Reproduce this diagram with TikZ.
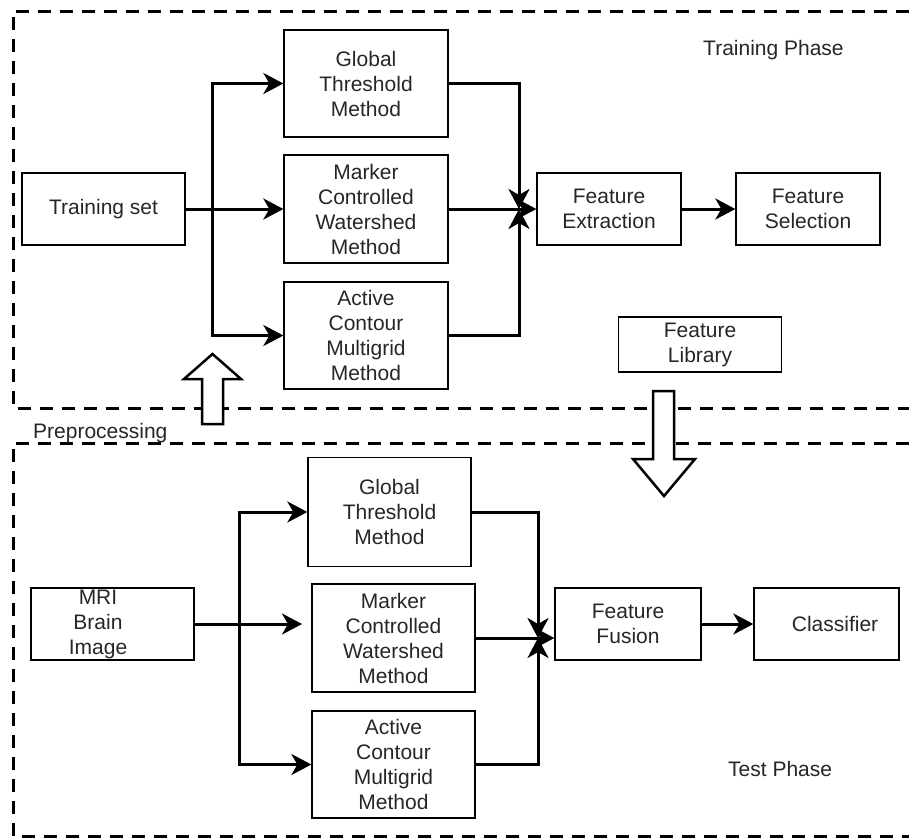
\documentclass[tikz,border=0pt]{standalone}
\usepackage{fontspec}
\setmainfont{Liberation Sans}
\usetikzlibrary{arrows.meta}
\begin{document}
\begin{tikzpicture}[x=1pt,y=-1pt,
  box/.style={draw, line width=1.3pt, inner sep=0pt, align=center,
    font=\fontsize{21}{25}\selectfont, text=black!85},
  lbl/.style={inner sep=0pt, align=center, font=\fontsize{21}{25}\selectfont, text=black!85},
  arr/.style={line width=3pt, -{Stealth[length=20pt,width=21pt,inset=6pt]}},
  frame/.style={line width=3pt, dash pattern=on 13pt off 9pt},
  blk/.style={draw, line width=2.5pt, fill=white, line join=miter}]
\useasboundingbox (0,0) rectangle (909,839);

% dashed phase frames
\draw[frame] (909,11) -- (13,11) -- (13,408) -- (909,408);
\draw[frame] (909,443) -- (13,443) -- (13,836) -- (909,836);

% ---------- training phase ----------
\node[box, minimum width=163pt, minimum height=72pt] (ts) at (103.5,209) {Training set};
\node[box, minimum width=164pt, minimum height=107pt] (gt1) at (366,83.5) {Global\\Threshold\\Method};
\node[box, minimum width=164pt, minimum height=108pt] (mw1) at (366,209) {Marker\\Controlled\\Watershed\\Method};
\node[box, minimum width=164pt, minimum height=107pt] (ac1) at (366,335.5) {Active\\Contour\\Multigrid\\Method};
\node[box, minimum width=144pt, minimum height=72pt] (fe) at (609,209) {Feature\\Extraction};
\node[box, minimum width=144pt, minimum height=72pt] (fs) at (808,209) {Feature\\Selection};
\node[box, minimum width=163pt, minimum height=55pt] (fl) at (700,344.5) {Feature\\Library};

\coordinate (j1) at (212,209);
\coordinate (m1) at (519,209);
\draw[arr] (ts.east) -- (mw1.west);
\draw[arr] (j1) |- (gt1.west);
\draw[arr] (j1) |- (ac1.west);
\draw[arr] (gt1.east) -| (m1);
\draw[arr] (ac1.east) -| (m1);
\draw[arr] (mw1.east) -- (fe.west);
\draw[arr] (fe.east) -- (fs.west);

% ---------- test phase ----------
\node[box, minimum width=163pt, minimum height=72pt] (mri) at (112.5,624) {};
\node[lbl] (mrit) at (98,624) {MRI\\Brain\\Image};
\node[box, minimum width=163pt, minimum height=109pt] (gt2) at (389.5,512) {Global\\Threshold\\Method};
\node[box, minimum width=163pt, minimum height=108pt] (mw2) at (393.5,638) {Marker\\Controlled\\Watershed\\Method};
\node[box, minimum width=163pt, minimum height=107pt] (ac2) at (393.5,764.5) {Active\\Contour\\Multigrid\\Method};
\node[box, minimum width=146pt, minimum height=72pt] (ff) at (628,624) {Feature\\Fusion};
\node[box, minimum width=145pt, minimum height=72pt] (cl) at (826.5,624) {};
\node[lbl] (clt) at (835,624) {Classifier};

\coordinate (j2) at (239,624);
\coordinate (e2) at (302,624);
\coordinate (m2) at (538,638);
\draw[arr] (mri.east) -- (e2);
\draw[arr] (j2) |- (gt2.west);
\draw[arr] (j2) |- (ac2.west);
\draw[arr] (gt2.east) -| (m2);
\draw[arr] (ac2.east) -| (m2);
\draw[arr] (mw2.east) -- (mw2.east -| ff.west);
\draw[arr] (ff.east) -- (cl.west);

% block arrows
\draw[blk] (202,424) -- (202,379) -- (184,379) -- (212.5,354) -- (241,379) -- (223,379) -- (223,424) -- cycle;
\draw[blk] (653,391) -- (674,391) -- (674,459) -- (695,459) -- (664,496) -- (633,459) -- (653,459) -- cycle;

% labels
\node[lbl, anchor=base west] (tp) at (703,55) {Training Phase};
\node[lbl, anchor=base west] (pp) at (33,438) {Preprocessing};
\node[lbl, anchor=base west] (tsp) at (728,776) {Test Phase};
\end{tikzpicture}
\end{document}
